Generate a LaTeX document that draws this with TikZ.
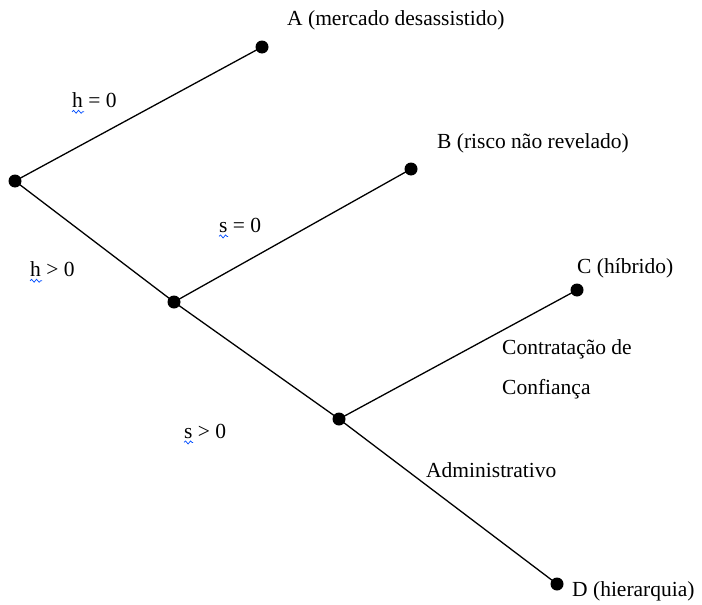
\documentclass[tikz,border=0pt]{standalone}
\usepackage{fontspec}
\setmainfont{Liberation Serif}
\usetikzlibrary{decorations.pathmorphing}
\begin{document}
\begin{tikzpicture}[x=1pt,y=-1pt,
  dot/.style={circle,fill=black,inner sep=0pt,minimum size=13pt},
  lbl/.style={anchor=west,inner sep=0pt,font=\fontsize{21.5}{24}\selectfont},
  edge/.style={draw=black,line width=1.3pt},
  squig/.style={draw=blue!70!cyan,line width=0.7pt,decorate,decoration={snake,amplitude=1.5pt,segment length=5pt}}]
\useasboundingbox (0,0) rectangle (702,605);
\node[dot] (r) at (15,181) {};
\node[dot] (a) at (262,47) {};
\node[dot] (b) at (411,169) {};
\node[dot] (n2) at (174,302) {};
\node[dot] (c) at (577,290) {};
\node[dot] (n3) at (339,419) {};
\node[dot] (d) at (557,584) {};
\draw[edge] (r.center) -- (a.center);
\draw[edge] (r.center) -- (n2.center);
\draw[edge] (n2.center) -- (b.center);
\draw[edge] (n2.center) -- (n3.center);
\draw[edge] (n3.center) -- (c.center);
\draw[edge] (n3.center) -- (d.center);
\node[lbl] (la) at (287,20) {A (mercado desassistido)};
\node[lbl] (lb) at (437,143) {B (risco não revelado)};
\node[lbl] (lc) at (577,268) {C (híbrido)};
\node[lbl] (lct) at (502,349) {Contratação de};
\node[lbl] (lcf) at (502,389) {Confiança};
\node[lbl] (lad) at (426,470) {Administrativo};
\node[lbl] (ld) at (572,591) {D (hierarquia)};
\node[lbl] (h0) at (72,100) {h = 0};
\node[lbl] (s0) at (219,225) {s = 0};
\node[lbl] (h1) at (30,269) {h > 0};
\node[lbl] (s1) at (184,431) {s > 0};
\draw[squig] ([yshift=-4pt]h0.south west) -- ++(12,0);
\draw[squig] ([yshift=-4pt]s0.south west) -- ++(9,0);
\draw[squig] ([yshift=-4pt]h1.south west) -- ++(12,0);
\draw[squig] ([yshift=-4pt]s1.south west) -- ++(9,0);
\end{tikzpicture}
\end{document}
